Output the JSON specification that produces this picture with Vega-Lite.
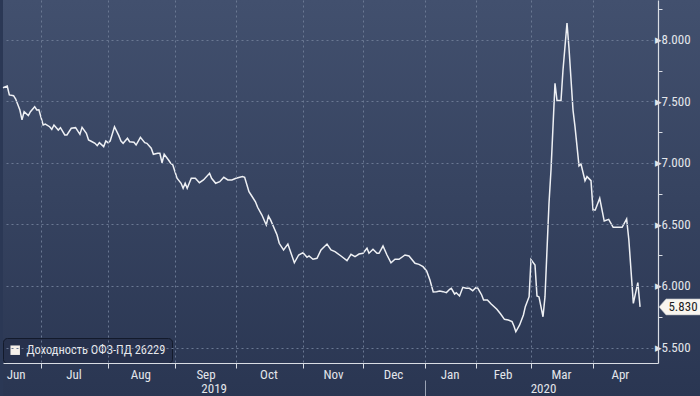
{
  "$schema": "https://vega.github.io/schema/vega-lite/v6.json",
  "width": 655,
  "height": 363,
  "padding": 0,
  "autosize": {"type": "pad"},
  "background": "#2b3855",
  "config": {
    "view": {"stroke": null},
    "font": "Liberation Sans Narrow, Roboto Condensed, Liberation Sans, sans-serif"
  },
  "data": {"name": "ofz", "format": {"parse": {"date": "date"}}},
  "datasets": {
    "ofz": [
      {"date": "2019-06-13", "yield": 7.612}, {"date": "2019-06-15", "yield": 7.626}, {"date": "2019-06-16", "yield": 7.553},
      {"date": "2019-06-18", "yield": 7.547}, {"date": "2019-06-19", "yield": 7.520}, {"date": "2019-06-21", "yield": 7.431},
      {"date": "2019-06-22", "yield": 7.350}, {"date": "2019-06-23", "yield": 7.417}, {"date": "2019-06-25", "yield": 7.385},
      {"date": "2019-06-26", "yield": 7.417}, {"date": "2019-06-28", "yield": 7.458}, {"date": "2019-06-29", "yield": 7.431},
      {"date": "2019-06-30", "yield": 7.433}, {"date": "2019-07-02", "yield": 7.309}, {"date": "2019-07-03", "yield": 7.317},
      {"date": "2019-07-05", "yield": 7.295}, {"date": "2019-07-06", "yield": 7.274}, {"date": "2019-07-07", "yield": 7.309},
      {"date": "2019-07-09", "yield": 7.268}, {"date": "2019-07-10", "yield": 7.287}, {"date": "2019-07-12", "yield": 7.228},
      {"date": "2019-07-13", "yield": 7.228}, {"date": "2019-07-15", "yield": 7.282}, {"date": "2019-07-17", "yield": 7.287},
      {"date": "2019-07-19", "yield": 7.233}, {"date": "2019-07-20", "yield": 7.290}, {"date": "2019-07-22", "yield": 7.241},
      {"date": "2019-07-23", "yield": 7.187}, {"date": "2019-07-24", "yield": 7.179}, {"date": "2019-07-26", "yield": 7.160},
      {"date": "2019-07-27", "yield": 7.141}, {"date": "2019-07-28", "yield": 7.165}, {"date": "2019-07-30", "yield": 7.133},
      {"date": "2019-07-31", "yield": 7.179}, {"date": "2019-08-01", "yield": 7.165}, {"date": "2019-08-02", "yield": 7.179},
      {"date": "2019-08-04", "yield": 7.295}, {"date": "2019-08-06", "yield": 7.222}, {"date": "2019-08-07", "yield": 7.179},
      {"date": "2019-08-08", "yield": 7.160}, {"date": "2019-08-10", "yield": 7.201}, {"date": "2019-08-11", "yield": 7.173},
      {"date": "2019-08-13", "yield": 7.168}, {"date": "2019-08-14", "yield": 7.146}, {"date": "2019-08-16", "yield": 7.209},
      {"date": "2019-08-18", "yield": 7.165}, {"date": "2019-08-19", "yield": 7.160}, {"date": "2019-08-21", "yield": 7.120},
      {"date": "2019-08-22", "yield": 7.071}, {"date": "2019-08-24", "yield": 7.079}, {"date": "2019-08-25", "yield": 7.079},
      {"date": "2019-08-26", "yield": 7.002}, {"date": "2019-08-27", "yield": 7.071}, {"date": "2019-08-29", "yield": 7.024},
      {"date": "2019-08-30", "yield": 6.998}, {"date": "2019-08-31", "yield": 6.984}, {"date": "2019-09-02", "yield": 6.876},
      {"date": "2019-09-04", "yield": 6.835}, {"date": "2019-09-05", "yield": 6.794}, {"date": "2019-09-06", "yield": 6.835},
      {"date": "2019-09-07", "yield": 6.794}, {"date": "2019-09-09", "yield": 6.876}, {"date": "2019-09-11", "yield": 6.876},
      {"date": "2019-09-13", "yield": 6.840}, {"date": "2019-09-15", "yield": 6.862}, {"date": "2019-09-18", "yield": 6.916},
      {"date": "2019-09-19", "yield": 6.876}, {"date": "2019-09-21", "yield": 6.835}, {"date": "2019-09-23", "yield": 6.848},
      {"date": "2019-09-25", "yield": 6.884}, {"date": "2019-09-27", "yield": 6.862}, {"date": "2019-09-29", "yield": 6.862},
      {"date": "2019-10-01", "yield": 6.876}, {"date": "2019-10-04", "yield": 6.889}, {"date": "2019-10-05", "yield": 6.884},
      {"date": "2019-10-07", "yield": 6.767}, {"date": "2019-10-08", "yield": 6.740}, {"date": "2019-10-10", "yield": 6.685},
      {"date": "2019-10-11", "yield": 6.640}, {"date": "2019-10-13", "yield": 6.577}, {"date": "2019-10-15", "yield": 6.496},
      {"date": "2019-10-16", "yield": 6.569}, {"date": "2019-10-17", "yield": 6.537}, {"date": "2019-10-20", "yield": 6.415},
      {"date": "2019-10-21", "yield": 6.347}, {"date": "2019-10-23", "yield": 6.293}, {"date": "2019-10-25", "yield": 6.341},
      {"date": "2019-10-28", "yield": 6.189}, {"date": "2019-10-30", "yield": 6.252}, {"date": "2019-11-01", "yield": 6.271},
      {"date": "2019-11-03", "yield": 6.233}, {"date": "2019-11-04", "yield": 6.244}, {"date": "2019-11-06", "yield": 6.217},
      {"date": "2019-11-08", "yield": 6.225}, {"date": "2019-11-10", "yield": 6.293}, {"date": "2019-11-13", "yield": 6.341},
      {"date": "2019-11-15", "yield": 6.293}, {"date": "2019-11-17", "yield": 6.279}, {"date": "2019-11-20", "yield": 6.244},
      {"date": "2019-11-23", "yield": 6.206}, {"date": "2019-11-25", "yield": 6.258}, {"date": "2019-11-27", "yield": 6.238},
      {"date": "2019-11-29", "yield": 6.260}, {"date": "2019-12-01", "yield": 6.266}, {"date": "2019-12-03", "yield": 6.307},
      {"date": "2019-12-04", "yield": 6.266}, {"date": "2019-12-06", "yield": 6.298}, {"date": "2019-12-08", "yield": 6.266},
      {"date": "2019-12-09", "yield": 6.266}, {"date": "2019-12-11", "yield": 6.325}, {"date": "2019-12-13", "yield": 6.252},
      {"date": "2019-12-15", "yield": 6.189}, {"date": "2019-12-17", "yield": 6.217}, {"date": "2019-12-19", "yield": 6.217},
      {"date": "2019-12-22", "yield": 6.252}, {"date": "2019-12-24", "yield": 6.244}, {"date": "2019-12-27", "yield": 6.185},
      {"date": "2019-12-29", "yield": 6.176}, {"date": "2019-12-31", "yield": 6.157}, {"date": "2020-01-02", "yield": 6.122},
      {"date": "2020-01-04", "yield": 6.049}, {"date": "2020-01-06", "yield": 5.951}, {"date": "2020-01-08", "yield": 5.954},
      {"date": "2020-01-10", "yield": 5.959}, {"date": "2020-01-12", "yield": 5.954}, {"date": "2020-01-14", "yield": 5.946},
      {"date": "2020-01-16", "yield": 5.973}, {"date": "2020-01-17", "yield": 5.981}, {"date": "2020-01-19", "yield": 5.935},
      {"date": "2020-01-20", "yield": 5.946}, {"date": "2020-01-22", "yield": 5.919}, {"date": "2020-01-24", "yield": 5.989},
      {"date": "2020-01-26", "yield": 5.981}, {"date": "2020-01-28", "yield": 5.981}, {"date": "2020-01-30", "yield": 5.962},
      {"date": "2020-02-01", "yield": 5.989}, {"date": "2020-02-02", "yield": 5.981}, {"date": "2020-02-04", "yield": 5.927},
      {"date": "2020-02-05", "yield": 5.886}, {"date": "2020-02-07", "yield": 5.886}, {"date": "2020-02-09", "yield": 5.854},
      {"date": "2020-02-12", "yield": 5.811}, {"date": "2020-02-14", "yield": 5.772}, {"date": "2020-02-16", "yield": 5.729},
      {"date": "2020-02-18", "yield": 5.724}, {"date": "2020-02-20", "yield": 5.710}, {"date": "2020-02-21", "yield": 5.675},
      {"date": "2020-02-22", "yield": 5.628}, {"date": "2020-02-24", "yield": 5.683}, {"date": "2020-02-26", "yield": 5.764},
      {"date": "2020-02-27", "yield": 5.832}, {"date": "2020-02-29", "yield": 5.913}, {"date": "2020-03-01", "yield": 6.215},
      {"date": "2020-03-03", "yield": 6.171}, {"date": "2020-03-04", "yield": 5.919}, {"date": "2020-03-05", "yield": 5.911},
      {"date": "2020-03-07", "yield": 5.750}, {"date": "2020-03-08", "yield": 5.913}, {"date": "2020-03-10", "yield": 6.672},
      {"date": "2020-03-11", "yield": 6.943}, {"date": "2020-03-13", "yield": 7.648}, {"date": "2020-03-14", "yield": 7.507},
      {"date": "2020-03-16", "yield": 7.507}, {"date": "2020-03-17", "yield": 7.756}, {"date": "2020-03-19", "yield": 8.138},
      {"date": "2020-03-20", "yield": 7.933}, {"date": "2020-03-22", "yield": 7.431}, {"date": "2020-03-23", "yield": 7.295},
      {"date": "2020-03-25", "yield": 6.976}, {"date": "2020-03-26", "yield": 6.992}, {"date": "2020-03-28", "yield": 6.856},
      {"date": "2020-03-29", "yield": 6.889}, {"date": "2020-03-31", "yield": 6.856}, {"date": "2020-04-01", "yield": 6.618},
      {"date": "2020-04-02", "yield": 6.618}, {"date": "2020-04-04", "yield": 6.713}, {"date": "2020-04-06", "yield": 6.528},
      {"date": "2020-04-08", "yield": 6.542}, {"date": "2020-04-10", "yield": 6.477}, {"date": "2020-04-14", "yield": 6.477},
      {"date": "2020-04-16", "yield": 6.545}, {"date": "2020-04-17", "yield": 6.374}, {"date": "2020-04-19", "yield": 5.859},
      {"date": "2020-04-21", "yield": 6.027}, {"date": "2020-04-22", "yield": 5.830}
    ]
  },
  "resolve": {"axis": {"x": "independent", "y": "independent"}},
  "layer": [
    {
      "data": {"values": [{}]},
      "mark": {
        "type": "rect",
        "fill": {
          "gradient": "linear", "x1": 0, "y1": 0, "x2": 0, "y2": 1,
          "stops": [{"offset": 0, "color": "#42506e"}, {"offset": 1, "color": "#2a3652"}]
        }
      },
      "encoding": {
        "x": {"value": 0},
        "x2": {"value": {"expr": "width + 45"}},
        "y": {"value": 0},
        "y2": {"value": {"expr": "height + 33"}}
      }
    },
    {
      "mark": {"type": "line", "strokeWidth": 1.5},
      "encoding": {
        "x": {
          "field": "date", "type": "quantitative",
          "scale": {
            "nice": false, "zero": false,
            "domain": [1560384000000, 1561939200000, 1564617600000, 1567296000000, 1569888000000, 1572566400000, 1575158400000, 1577836800000, 1580515200000, 1583020800000, 1585699200000, 1588204800000],
            "range": [0, 38, 105, 172, 233, 300, 360, 422, 473, 528, 590, 655]
          },
          "axis": {
            "orient": "bottom", "title": null, "zindex": 1,
            "values": [1560902400000, 1561939200000, 1563235200000, 1564617600000, 1565913600000, 1567296000000, 1568592000000, 1569888000000, 1571184000000, 1572566400000, 1573862400000, 1575158400000, 1576454400000, 1577836800000, 1579132800000, 1580515200000, 1581724800000, 1583020800000, 1584316800000, 1585699200000, 1586736000000],
            "labelExpr": "utcdate(datum.value) == 1 ? '' : utcFormat(datum.value, '%b')",
            "tickOpacity": {"condition": {"test": "utcdate(datum.value) == 1", "value": 1}, "value": 0},
            "gridOpacity": {"condition": {"test": "utcdate(datum.value) == 1", "value": 1}, "value": 0},
            "grid": true, "gridDash": [2, 3], "gridColor": "#6a7893", "gridWidth": 1,
            "tickSize": 5, "tickColor": "#d9dde4", "tickWidth": 1,
            "domainColor": "#d9dde4", "domainWidth": 1.2,
            "labelColor": "#e3e6eb", "labelFontSize": 13, "labelPadding": 0,
            "labelFlush": false, "labelOverlap": false
          }
        },
        "y": {
          "field": "yield", "type": "quantitative",
          "scale": {"domain": [5.374, 8.325], "nice": false, "zero": false},
          "axis": {
            "orient": "right", "title": null, "zindex": 1,
            "values": [5.5, 5.75, 6, 6.25, 6.5, 6.75, 7, 7.25, 7.5, 7.75, 8, 8.25],
            "labelExpr": "round(datum.value * 4) % 2 == 0 ? '▸' + format(datum.value, '.3f') : ''",
            "tickOpacity": {"condition": {"test": "round(datum.value * 4) % 2 == 1", "value": 1}, "value": 0},
            "gridOpacity": {"condition": {"test": "round(datum.value * 4) % 2 == 0", "value": 1}, "value": 0},
            "grid": true, "gridDash": [2, 3], "gridColor": "#6a7893", "gridWidth": 1,
            "tickSize": 4, "tickColor": "#d9dde4",
            "domainColor": "#d9dde4", "domainWidth": 1.2,
            "labelColor": "#e3e6eb", "labelFontSize": 13, "labelPadding": -8,
            "labelFlush": false, "labelOverlap": false
          }
        },
        "color": {
          "datum": "Доходность ОФЗ-ПД 26229", "type": "nominal",
          "scale": {"range": ["#eef0f4"]},
          "legend": {
            "title": null, "orient": "bottom-left", "offset": 0,
            "fillColor": "#27314c", "strokeColor": "#131a2b", "cornerRadius": 4, "padding": 6,
            "symbolType": "square", "symbolSize": 90, "symbolFillColor": "#f6f0ea",
            "symbolStrokeColor": "#f6f0ea", "symbolStrokeWidth": 0, "symbolOpacity": 1,
            "labelColor": "#e6e8ec", "labelFontSize": 12.4, "labelOffset": 5,
            "encode": {"symbols": {"update": {"fill": {"value": "#f6f0ea"}, "fillOpacity": {"value": 1}, "strokeWidth": {"value": 0}}}}
          }
        }
      }
    },
    {
      "mark": {"type": "line", "opacity": 0},
      "encoding": {
        "x": {
          "field": "date", "type": "quantitative",
          "axis": {
            "orient": "bottom", "title": null, "zindex": 1,
            "values": [1568937600000, 1577836800000, 1583539200000],
            "labelExpr": "utcmonth(datum.value) == 0 ? '' : utcFormat(datum.value, '%Y')",
            "tickOpacity": {"condition": {"test": "utcmonth(datum.value) == 0", "value": 1}, "value": 0},
            "tickSize": 33, "tickDash": [0, 17, 20], "tickColor": "#9aa3b5", "tickWidth": 1,
            "domain": false, "grid": false,
            "labelColor": "#e3e6eb", "labelFontSize": 13, "labelPadding": -14,
            "labelFlush": false, "labelOverlap": false
          }
        },
        "y": {"field": "yield", "type": "quantitative", "axis": null}
      }
    },
    {
      "transform": [
        {"window": [{"op": "row_number", "as": "rn"}], "sort": [{"field": "date", "order": "descending"}]},
        {"filter": "datum.rn == 1"}
      ],
      "mark": {
        "type": "point", "shape": "M-1,0L-0.68,-0.364L1,-0.364L1,0.364L-0.68,0.364Z",
        "size": 1936, "filled": true, "fill": "#f8f5ef", "stroke": "#b0b5be", "strokeWidth": 0.6,
        "opacity": 1, "xOffset": 23
      },
      "encoding": {
        "x": {"value": "width"},
        "y": {"field": "yield", "type": "quantitative", "axis": null}
      }
    },
    {
      "transform": [
        {"window": [{"op": "row_number", "as": "rn"}], "sort": [{"field": "date", "order": "descending"}]},
        {"filter": "datum.rn == 1"}
      ],
      "mark": {"type": "text", "dx": 25, "align": "center", "baseline": "middle", "fontSize": 13, "color": "#1c1d22"},
      "encoding": {
        "x": {"value": "width"},
        "y": {"field": "yield", "type": "quantitative", "axis": null},
        "text": {"field": "yield", "type": "quantitative", "format": ".3f"}
      }
    }
  ]
}
